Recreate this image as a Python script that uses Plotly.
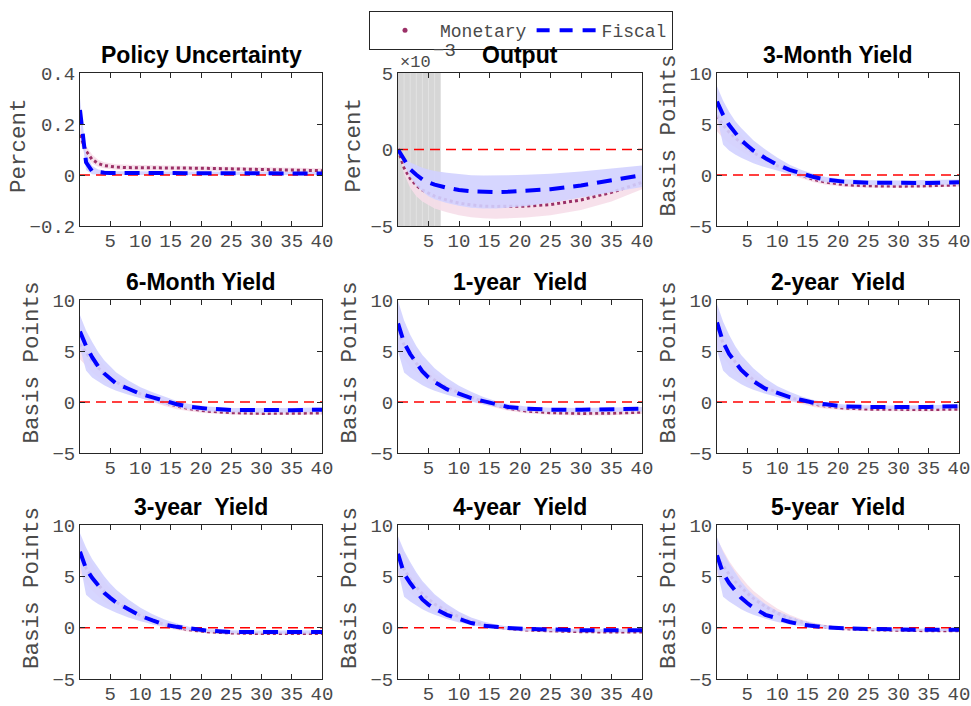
import plotly.graph_objects as go

# ---------------------------------------------------------------------------
# Impulse responses: policy uncertainty shock, monetary vs fiscal identification
# ---------------------------------------------------------------------------
H = [0, 1, 2, 3, 4, 5, 6, 8, 10, 12, 14, 16, 18, 21, 25, 30, 35, 40]

# Policy Uncertainty (percent)
pu_fis    = [0.255, 0.050, 0.015, 0.010, 0.009, 0.008, 0.008, 0.008, 0.008, 0.008, 0.008, 0.008, 0.007, 0.007, 0.007, 0.007, 0.006, 0.006]
pu_fis_hi = [0.300, 0.085, 0.035, 0.022, 0.018, 0.016, 0.015, 0.015, 0.015, 0.014, 0.014, 0.014, 0.013, 0.013, 0.013, 0.012, 0.012, 0.012]
pu_fis_lo = [0.210, 0.020, 0.003, 0.001, 0.000, 0.000, 0.000, 0.000, 0.000, 0.000, 0.000, 0.000, 0.000, 0.000, 0.000, 0.000, 0.000, 0.000]
pu_mon    = [0.157, 0.094, 0.061, 0.045, 0.037, 0.033, 0.031, 0.029, 0.029, 0.029, 0.028, 0.028, 0.027, 0.026, 0.024, 0.022, 0.020, 0.017]
pu_mon_hi = [0.190, 0.115, 0.080, 0.060, 0.050, 0.045, 0.042, 0.040, 0.039, 0.038, 0.037, 0.036, 0.035, 0.034, 0.032, 0.030, 0.028, 0.026]
pu_mon_lo = [0.125, 0.075, 0.045, 0.032, 0.026, 0.023, 0.021, 0.019, 0.019, 0.019, 0.018, 0.018, 0.017, 0.016, 0.015, 0.013, 0.011, 0.009]

# Output (percent)
out_fis    = [0, -0.70e-3, -1.30e-3, -1.65e-3, -1.95e-3, -2.15e-3, -2.30e-3, -2.50e-3, -2.65e-3, -2.73e-3, -2.78e-3, -2.78e-3, -2.76e-3, -2.70e-3, -2.60e-3, -2.35e-3, -2.00e-3, -1.68e-3]
out_fis_hi = [0, -0.50e-3, -0.85e-3, -1.05e-3, -1.20e-3, -1.30e-3, -1.40e-3, -1.52e-3, -1.62e-3, -1.68e-3, -1.70e-3, -1.70e-3, -1.68e-3, -1.65e-3, -1.58e-3, -1.43e-3, -1.22e-3, -1.05e-3]
out_fis_lo = [0, -1.00e-3, -1.80e-3, -2.35e-3, -2.75e-3, -3.05e-3, -3.25e-3, -3.50e-3, -3.68e-3, -3.80e-3, -3.85e-3, -3.85e-3, -3.80e-3, -3.70e-3, -3.48e-3, -3.15e-3, -2.80e-3, -2.45e-3]
out_mon    = [0, -1.20e-3, -1.90e-3, -2.35e-3, -2.65e-3, -2.85e-3, -3.05e-3, -3.30e-3, -3.50e-3, -3.62e-3, -3.70e-3, -3.72e-3, -3.72e-3, -3.70e-3, -3.60e-3, -3.30e-3, -2.80e-3, -2.15e-3]
out_mon_hi = [0, -0.80e-3, -1.30e-3, -1.65e-3, -1.90e-3, -2.05e-3, -2.20e-3, -2.40e-3, -2.55e-3, -2.65e-3, -2.70e-3, -2.72e-3, -2.72e-3, -2.70e-3, -2.62e-3, -2.40e-3, -2.10e-3, -1.60e-3]
out_mon_lo = [0, -1.60e-3, -2.50e-3, -3.05e-3, -3.40e-3, -3.65e-3, -3.85e-3, -4.10e-3, -4.30e-3, -4.42e-3, -4.50e-3, -4.52e-3, -4.50e-3, -4.45e-3, -4.30e-3, -3.95e-3, -3.40e-3, -2.60e-3]
out_shade = [0, 7]

# 3-Month Yield (basis points)
m3_fis    = [7.2, 5.9, 4.9, 4.1, 3.4, 2.9, 2.4, 1.65, 1.0, 0.5, 0.1, -0.2, -0.45, -0.65, -0.76, -0.80, -0.78, -0.70]
m3_fis_hi = [8.7, 7.3, 6.2, 5.3, 4.6, 4.0, 3.4, 2.5, 1.7, 1.0, 0.5, 0.1, -0.2, -0.42, -0.52, -0.55, -0.53, -0.45]
m3_fis_lo = [5.7, 3.0, 2.4, 2.0, 1.7, 1.4, 1.15, 0.75, 0.4, 0.1, -0.2, -0.45, -0.7, -0.88, -0.98, -1.02, -1.0, -0.93]
m3_mon    = [5.8, 4.9, 4.2, 3.6, 3.1, 2.6, 2.2, 1.5, 0.9, 0.4, 0.0, -0.45, -0.7, -0.95, -1.06, -1.10, -1.06, -0.97]
m3_mon_hi = [7.4, 6.2, 5.3, 4.5, 3.9, 3.3, 2.8, 2.0, 1.35, 0.8, 0.35, -0.1, -0.45, -0.75, -0.9, -0.95, -0.92, -0.85]
m3_mon_lo = [4.3, 3.6, 3.1, 2.7, 2.3, 1.95, 1.6, 1.05, 0.5, 0.05, -0.35, -0.7, -0.95, -1.15, -1.25, -1.27, -1.22, -1.12]

# 6-Month Yield
m6_fis    = [6.9, 5.5, 4.4, 3.5, 2.8, 2.25, 1.8, 1.3, 0.78, 0.45, 0.08, -0.22, -0.45, -0.65, -0.78, -0.82, -0.80, -0.75]
m6_fis_hi = [8.5, 7.0, 5.9, 4.9, 4.1, 3.5, 2.9, 2.1, 1.45, 0.95, 0.5, 0.1, -0.2, -0.45, -0.58, -0.62, -0.60, -0.55]
m6_fis_lo = [5.3, 3.1, 2.4, 2.0, 1.65, 1.35, 1.1, 0.7, 0.35, 0.05, -0.25, -0.5, -0.72, -0.9, -1.0, -1.05, -1.03, -0.98]
m6_mon    = [5.7, 4.8, 4.0, 3.35, 2.8, 2.35, 1.95, 1.3, 0.8, 0.35, -0.05, -0.4, -0.65, -0.9, -1.05, -1.12, -1.12, -1.08]
m6_mon_hi = [7.2, 6.1, 5.1, 4.3, 3.6, 3.0, 2.55, 1.8, 1.2, 0.72, 0.3, -0.1, -0.4, -0.68, -0.87, -0.95, -0.96, -0.93]
m6_mon_lo = [4.2, 3.5, 2.9, 2.4, 2.0, 1.7, 1.4, 0.85, 0.4, 0.0, -0.4, -0.7, -0.9, -1.1, -1.22, -1.28, -1.28, -1.23]

# 1-year Yield
y1_fis    = [7.7, 5.8, 4.7, 3.8, 3.0, 2.4, 1.95, 1.25, 0.78, 0.38, 0.08, -0.25, -0.48, -0.66, -0.75, -0.76, -0.72, -0.65]
y1_fis_hi = [9.9, 8.0, 6.6, 5.5, 4.6, 3.9, 3.3, 2.35, 1.6, 1.0, 0.5, 0.1, -0.2, -0.45, -0.57, -0.6, -0.57, -0.5]
y1_fis_lo = [5.0, 2.9, 2.4, 2.0, 1.65, 1.35, 1.1, 0.7, 0.35, 0.05, -0.25, -0.5, -0.72, -0.9, -0.98, -1.0, -0.98, -0.92]
y1_mon    = [6.9, 5.6, 4.6, 3.8, 3.15, 2.6, 2.15, 1.45, 0.9, 0.45, 0.05, -0.3, -0.6, -0.88, -1.05, -1.12, -1.1, -1.0]
y1_mon_hi = [8.6, 7.0, 5.8, 4.8, 4.0, 3.35, 2.8, 1.95, 1.3, 0.8, 0.35, -0.02, -0.33, -0.65, -0.85, -0.93, -0.92, -0.84]
y1_mon_lo = [5.2, 4.2, 3.4, 2.8, 2.3, 1.85, 1.5, 0.95, 0.5, 0.1, -0.25, -0.58, -0.85, -1.1, -1.25, -1.32, -1.3, -1.18]

# 2-year Yield
y2_fis    = [7.8, 5.9, 4.7, 3.85, 3.15, 2.6, 2.05, 1.3, 0.85, 0.48, 0.2, -0.08, -0.23, -0.43, -0.48, -0.5, -0.48, -0.42]
y2_fis_hi = [9.6, 7.9, 6.6, 5.5, 4.6, 3.9, 3.3, 2.3, 1.55, 1.0, 0.55, 0.2, -0.05, -0.25, -0.33, -0.35, -0.33, -0.28]
y2_fis_lo = [5.1, 3.1, 2.5, 2.1, 1.75, 1.45, 1.2, 0.8, 0.45, 0.15, -0.1, -0.32, -0.5, -0.62, -0.68, -0.7, -0.68, -0.62]
y2_mon    = [7.2, 5.8, 4.8, 3.95, 3.25, 2.7, 2.2, 1.45, 0.9, 0.45, 0.1, -0.2, -0.4, -0.6, -0.7, -0.75, -0.74, -0.7]
y2_mon_hi = [8.9, 7.2, 6.0, 5.0, 4.15, 3.45, 2.85, 1.95, 1.3, 0.8, 0.4, 0.08, -0.15, -0.4, -0.52, -0.57, -0.57, -0.53]
y2_mon_lo = [5.5, 4.4, 3.6, 2.9, 2.35, 1.95, 1.55, 0.95, 0.5, 0.1, -0.2, -0.48, -0.65, -0.8, -0.88, -0.93, -0.92, -0.87]

# 3-year Yield
y3_fis    = [7.4, 5.75, 4.85, 4.1, 3.4, 2.9, 2.45, 1.8, 1.15, 0.7, 0.28, 0.08, -0.07, -0.28, -0.42, -0.45, -0.44, -0.42]
y3_fis_hi = [9.2, 7.8, 6.7, 5.8, 5.0, 4.3, 3.7, 2.75, 1.95, 1.3, 0.8, 0.4, 0.1, -0.12, -0.25, -0.28, -0.27, -0.25]
y3_fis_lo = [6.3, 3.2, 2.7, 2.3, 2.0, 1.7, 1.45, 1.0, 0.62, 0.33, 0.1, -0.1, -0.25, -0.42, -0.55, -0.6, -0.6, -0.57]
y3_mon    = [7.0, 5.8, 4.9, 4.15, 3.5, 2.95, 2.5, 1.75, 1.15, 0.68, 0.3, 0.02, -0.2, -0.4, -0.52, -0.58, -0.58, -0.56]
y3_mon_hi = [8.8, 7.4, 6.3, 5.35, 4.55, 3.85, 3.3, 2.35, 1.6, 1.05, 0.6, 0.25, 0.0, -0.25, -0.38, -0.45, -0.46, -0.44]
y3_mon_lo = [5.3, 4.3, 3.6, 3.0, 2.5, 2.1, 1.75, 1.2, 0.7, 0.32, 0.0, -0.22, -0.4, -0.55, -0.66, -0.72, -0.72, -0.69]

# 4-year Yield
y4_fis    = [7.2, 5.25, 4.35, 3.5, 2.75, 2.25, 1.85, 1.25, 0.8, 0.45, 0.2, 0.07, -0.03, -0.12, -0.2, -0.25, -0.26, -0.26]
y4_fis_hi = [8.9, 7.5, 6.4, 5.4, 4.55, 3.85, 3.25, 2.3, 1.55, 1.0, 0.6, 0.3, 0.12, 0.0, -0.07, -0.12, -0.13, -0.13]
y4_fis_lo = [5.6, 3.0, 2.55, 2.15, 1.8, 1.5, 1.25, 0.85, 0.5, 0.25, 0.05, -0.1, -0.2, -0.3, -0.36, -0.4, -0.41, -0.4]
y4_mon    = [6.9, 5.7, 4.75, 3.95, 3.3, 2.75, 2.3, 1.6, 1.05, 0.62, 0.3, 0.08, -0.08, -0.23, -0.33, -0.4, -0.42, -0.42]
y4_mon_hi = [8.7, 7.3, 6.2, 5.2, 4.35, 3.7, 3.1, 2.2, 1.5, 0.95, 0.55, 0.28, 0.1, -0.07, -0.2, -0.28, -0.3, -0.3]
y4_mon_lo = [5.1, 4.1, 3.35, 2.75, 2.25, 1.85, 1.5, 1.0, 0.6, 0.28, 0.05, -0.12, -0.25, -0.38, -0.46, -0.52, -0.54, -0.54]

# 5-year Yield
y5_fis    = [7.05, 5.3, 4.35, 3.6, 2.9, 2.4, 1.95, 1.25, 0.85, 0.55, 0.3, 0.12, 0.02, -0.07, -0.14, -0.18, -0.2, -0.2]
y5_fis_hi = [8.8, 7.4, 6.3, 5.35, 4.5, 3.8, 3.2, 2.3, 1.6, 1.1, 0.7, 0.42, 0.22, 0.08, -0.02, -0.07, -0.09, -0.1]
y5_fis_lo = [5.7, 3.0, 2.55, 2.15, 1.8, 1.5, 1.25, 0.88, 0.55, 0.32, 0.15, 0.02, -0.08, -0.18, -0.25, -0.3, -0.32, -0.32]
y5_mon    = [6.9, 6.0, 5.2, 4.5, 3.9, 3.35, 2.85, 2.05, 1.4, 0.9, 0.52, 0.25, 0.07, -0.1, -0.2, -0.27, -0.3, -0.3]
y5_mon_hi = [8.6, 7.5, 6.5, 5.65, 4.9, 4.2, 3.6, 2.65, 1.85, 1.25, 0.8, 0.48, 0.25, 0.05, -0.08, -0.16, -0.2, -0.2]
y5_mon_lo = [5.2, 4.5, 3.9, 3.35, 2.9, 2.5, 2.1, 1.45, 0.95, 0.55, 0.25, 0.03, -0.12, -0.25, -0.33, -0.39, -0.41, -0.41]

titles = ["Policy Uncertainty", "Output", "3-Month Yield",
          "6-Month Yield", "1-year\u00a0 Yield", "2-year\u00a0 Yield",
          "3-year\u00a0 Yield", "4-year\u00a0 Yield", "5-year\u00a0 Yield"]
ylabels = ["Percent", "Percent", "Basis Points",
           "Basis Points", "Basis Points", "Basis Points",
           "Basis Points", "Basis Points", "Basis Points"]

panels = [
    (pu_fis, pu_fis_lo, pu_fis_hi, pu_mon, pu_mon_lo, pu_mon_hi),
    (out_fis, out_fis_lo, out_fis_hi, out_mon, out_mon_lo, out_mon_hi),
    (m3_fis, m3_fis_lo, m3_fis_hi, m3_mon, m3_mon_lo, m3_mon_hi),
    (m6_fis, m6_fis_lo, m6_fis_hi, m6_mon, m6_mon_lo, m6_mon_hi),
    (y1_fis, y1_fis_lo, y1_fis_hi, y1_mon, y1_mon_lo, y1_mon_hi),
    (y2_fis, y2_fis_lo, y2_fis_hi, y2_mon, y2_mon_lo, y2_mon_hi),
    (y3_fis, y3_fis_lo, y3_fis_hi, y3_mon, y3_mon_lo, y3_mon_hi),
    (y4_fis, y4_fis_lo, y4_fis_hi, y4_mon, y4_mon_lo, y4_mon_hi),
    (y5_fis, y5_fis_lo, y5_fis_hi, y5_mon, y5_mon_lo, y5_mon_hi),
]

x_ticks = [5, 10, 15, 20, 25, 30, 35, 40]
y_ranges = [[-0.2, 0.4], [-0.005, 0.005]] + [[-5, 10]] * 7
y_tickvals = [[-0.2, 0, 0.2, 0.4], [-0.005, 0, 0.005]] + [[-5, 0, 5, 10]] * 7
y_ticktext = [["\u22120.2", "0", "0.2", "0.4"], ["\u22125", "0", "5"]] + [["\u22125", "0", "5", "10"]] * 7

# ---- styling ----
W, Hpx = 971, 706
MON_COLOR = "#9B3067"
FIS_COLOR = "#0000FF"
MON_BAND = "rgba(246,222,233,0.9)"
FIS_BAND = "rgba(210,210,255,0.9)"
AX_COLOR = "#262626"
TXT_COLOR = "#4a4a4a"
MONO = "Liberation Mono"
SANS = "Liberation Sans"

col_px = [(80, 322), (398, 642), (717, 959)]
row_px = [(73, 226), (300, 453), (525, 679)]

fig = go.Figure()
layout = dict(
    width=W, height=Hpx,
    margin=dict(l=0, r=0, t=0, b=0, pad=0, autoexpand=False),
    paper_bgcolor="white", plot_bgcolor="white",
    showlegend=True,
)
annotations = []
shapes = []

for i, (fis, fis_lo, fis_hi, mon, mon_lo, mon_hi) in enumerate(panels):
    r, c = divmod(i, 3)
    n = "" if i == 0 else str(i + 1)
    xa, ya = "x" + n, "y" + n
    x0, x1 = col_px[c]
    t0, t1 = row_px[r]
    layout["xaxis" + n] = dict(
        domain=[x0 / W, x1 / W], anchor=ya, range=[0, 40],
        tickvals=x_ticks, ticks="inside", ticklen=5, tickcolor=AX_COLOR,
        showline=True, linecolor=AX_COLOR, linewidth=1, mirror="allticks",
        showgrid=False, zeroline=False, automargin=False, ticklabelstandoff=-3,
        tickfont=dict(family=MONO, size=19, color=TXT_COLOR),
    )
    layout["yaxis" + n] = dict(
        domain=[1 - t1 / Hpx, 1 - t0 / Hpx], anchor=xa, range=y_ranges[i],
        tickvals=y_tickvals[i], ticktext=y_ticktext[i],
        ticks="inside", ticklen=5, tickcolor=AX_COLOR,
        showline=True, linecolor=AX_COLOR, linewidth=1, mirror="allticks",
        showgrid=False, zeroline=False, automargin=False,
        tickfont=dict(family=MONO, size=19, color=TXT_COLOR),
    )

    # monetary band + response
    fig.add_trace(go.Scatter(x=H, y=mon_lo, mode="lines", line=dict(width=0),
                             xaxis=xa, yaxis=ya, showlegend=False, hoverinfo="skip"))
    fig.add_trace(go.Scatter(x=H, y=mon_hi, mode="lines", line=dict(width=0),
                             fill="tonexty", fillcolor=MON_BAND,
                             xaxis=xa, yaxis=ya, showlegend=False, hoverinfo="skip"))
    fig.add_trace(go.Scatter(x=H, y=mon, mode="lines",
                             line=dict(color=MON_COLOR, width=3, dash="dot"),
                             xaxis=xa, yaxis=ya, showlegend=False))
    # fiscal band
    fig.add_trace(go.Scatter(x=H, y=fis_lo, mode="lines", line=dict(width=0),
                             xaxis=xa, yaxis=ya, showlegend=False, hoverinfo="skip"))
    fig.add_trace(go.Scatter(x=H, y=fis_hi, mode="lines", line=dict(width=0),
                             fill="tonexty", fillcolor=FIS_BAND,
                             xaxis=xa, yaxis=ya, showlegend=False, hoverinfo="skip"))
    # zero reference line
    fig.add_trace(go.Scatter(x=[H[0], H[-1]], y=[0, 0], mode="lines",
                             line=dict(color="#FF0000", width=1.5, dash="10px,6px"),
                             xaxis=xa, yaxis=ya, showlegend=False, hoverinfo="skip"))
    # fiscal response
    fig.add_trace(go.Scatter(x=H, y=fis, mode="lines",
                             line=dict(color=FIS_COLOR, width=4, dash="15px,9px"),
                             xaxis=xa, yaxis=ya, showlegend=False))

    # panel title
    annotations.append(dict(
        text="<b>" + titles[i] + "</b>", xref="paper", yref="paper",
        x=(x0 + x1) / 2 / W, y=1 - (t0 - 3) / Hpx, xanchor="center", yanchor="bottom",
        showarrow=False, font=dict(family=SANS, size=23, color="black"),
    ))
    # y-axis label
    if ylabels[i] == "Percent":
        lx = x0 - (60.5 if c == 0 else 44)
        ly = (t0 + t1) / 2 - 4
    else:
        lx = x0 - 48.5
        ly = (t0 + t1) / 2 - 13.5
    annotations.append(dict(
        text=ylabels[i], xref="paper", yref="paper",
        x=lx / W, y=1 - ly / Hpx, xanchor="center", yanchor="middle",
        textangle=-90, showarrow=False,
        font=dict(family=MONO, size=22.5, color=TXT_COLOR),
    ))

# shaded window on the Output panel
shapes.append(dict(type="rect", xref="x2", yref="y2 domain",
                   x0=out_shade[0], x1=out_shade[1], y0=0, y1=1,
                   fillcolor="#d6d6d6", line=dict(width=0), layer="below"))
for k in range(out_shade[0] + 1, out_shade[1]):
    shapes.append(dict(type="line", xref="x2", yref="y2 domain",
                       x0=k, x1=k, y0=0, y1=1,
                       line=dict(color="rgba(255,255,255,0.3)", width=1), layer="below"))

# exponent label of the Output axis
annotations.append(dict(text="\u00d710", xref="paper", yref="paper",
                        x=398 / W, y=1 - 62 / Hpx, xanchor="left", yanchor="middle",
                        showarrow=False, font=dict(family=MONO, size=17, color=TXT_COLOR)))
annotations.append(dict(text="\u22123", xref="paper", yref="paper",
                        x=431 / W, y=1 - 51 / Hpx, xanchor="left", yanchor="middle",
                        showarrow=False, font=dict(family=MONO, size=19, color=TXT_COLOR)))

# legend entries
fig.add_trace(go.Scatter(x=[None], y=[None], mode="markers", name="Monetary",
                         marker=dict(color=MON_COLOR, size=5, symbol="circle"),
                         xaxis="x", yaxis="y"))
fig.add_trace(go.Scatter(x=[None], y=[None], mode="lines", name="Fiscal",
                         line=dict(color=FIS_COLOR, width=4, dash="13px,10px"),
                         xaxis="x", yaxis="y"))

layout["legend"] = dict(
    orientation="h", x=369 / W, y=1 - 11 / Hpx, xanchor="left", yanchor="top",
    bgcolor="rgba(255,255,255,0)", bordercolor="#262626", borderwidth=1,
    font=dict(family=MONO, size=18, color=TXT_COLOR),
    itemwidth=60, traceorder="normal",
)
layout["annotations"] = annotations
layout["shapes"] = shapes
fig.update_layout(**layout)

fig.write_html("out.html")
